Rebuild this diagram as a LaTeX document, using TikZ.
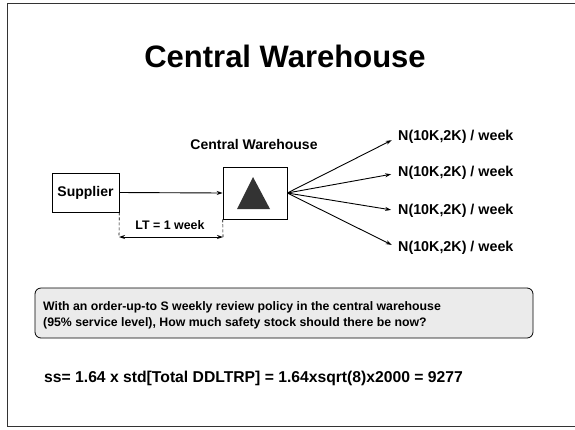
\documentclass[tikz,border=0pt]{standalone}
\usepackage{fontspec}
\setmainfont{Liberation Sans}
\usetikzlibrary{arrows.meta}
\begin{document}
\begin{tikzpicture}[x=1pt,y=-1pt,
  lbl/.style={font=\bfseries\fontsize{14}{16}\selectfont, inner sep=0pt},
  boxnode/.style={draw, line width=0.6pt, inner sep=0pt},
  arr/.style={-{Stealth[length=6pt,width=4pt]}, line width=0.9pt},
  guide/.style={densely dashed, line width=0.6pt}]
  \useasboundingbox (0,0) rectangle (575,429);
  % slide frame (right edge runs off the page)
  \begin{scope}
    \clip (0,0) rectangle (575,429);
    \draw[line width=1.4pt, black!80] (7.5,3.5) rectangle (590,426.5);
  \end{scope}

  % title
  \node[font=\bfseries\fontsize{31}{33}\selectfont, inner sep=0pt] (title) at (285,56) {Central Warehouse};

  % supplier and warehouse
  \node[boxnode, minimum width=67pt, minimum height=39pt] (sup) at (85.5,192.5) {};
  \node[lbl] at (sup.center) {Supplier};
  \node[boxnode, minimum width=64pt, minimum height=52pt] (wh) at (255,193) {};
  \node[lbl, anchor=south] (whlabel) at (254,150) {Central Warehouse};
  \fill[black!80] (253,177) -- (270,209) -- (237,209) -- cycle;

  \draw[arr] (sup.east) -- (wh.west);

  % lead time
  \coordinate (la) at (sup.south east);
  \coordinate (lb) at (wh.south west);
  \coordinate (la2) at (119,237);
  \coordinate (lb2) at (223,237);
  \draw[guide] (la) -- (la2);
  \draw[guide] (lb) -- (lb2);
  \draw[{Stealth[length=6pt,width=4pt]}-{Stealth[length=6pt,width=4pt]}, line width=0.9pt] (la2) -- (lb2);
  \node[lbl, font=\bfseries\fontsize{12.4}{14}\selectfont] (lt) at (170,225) {LT = 1 week};

  % demand streams
  \foreach \i/\yy in {1/137,2/173,3/211,4/248}{
    \node[lbl, anchor=west, font=\bfseries\fontsize{14.3}{16}\selectfont] (d\i) at (398,\yy) {N(10K,2K) / week};
    \draw[arr, shorten >=7pt] (wh.east) -- (d\i.west);
  }

  % question box
  \node[draw, rounded corners=6pt, fill=black!8, line width=0.8pt,
        minimum width=498pt, minimum height=50pt, inner sep=0pt] (q) at (284,313) {};
  \node[anchor=west, align=left, inner sep=0pt,
        font=\bfseries\fontsize{12.3}{16}\selectfont] (qt) at (43,315)
    {With an order-up-to S weekly review policy in the central warehouse\\(95\% service level), How much safety stock should there be now?};

  % answer
  \node[anchor=west, inner sep=0pt, font=\bfseries\fontsize{15.7}{18}\selectfont] (ans) at (44,378)
    {ss= 1.64 x std[Total DDLTRP] = 1.64xsqrt(8)x2000 = 9277};
\end{tikzpicture}
\end{document}
